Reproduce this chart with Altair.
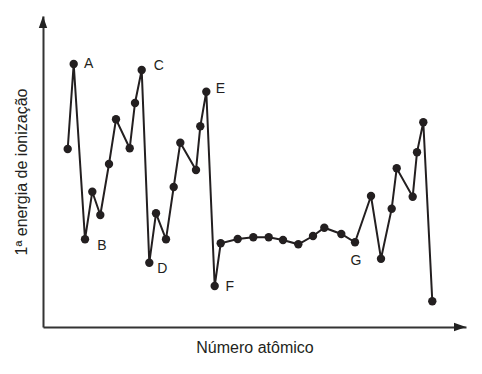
import altair as alt
import pandas as pd

# position along the atomic-number axis and ionization energy (arbitrary units)
pos = [24.7, 30.7, 42.0, 49.3, 57.3, 66.0, 73.0, 86.7, 92.0, 98.7,
       106.3, 113.0, 123.0, 130.7, 137.3, 153.0, 157.3, 163.3, 171.7, 177.7,
       194.7, 210.3, 225.7, 240.0, 255.3, 270.0, 281.3, 298.3, 312.0, 328.0,
       338.0, 348.7, 353.7, 369.7, 374.0, 380.3, 389.3]
energy = [178.0, 263.0, 87.7, 135.3, 112.0, 163.0, 207.7, 178.7, 224.0, 257.0,
          64.3, 113.7, 87.7, 140.0, 184.3, 157.0, 200.7, 235.3, 41.0, 83.7,
          88.0, 89.7, 89.7, 87.0, 82.7, 91.0, 99.3, 93.0, 84.7, 131.0,
          68.3, 118.3, 158.7, 130.3, 174.7, 204.7, 25.7]
label_names = ["A", "B", "C", "D", "E", "F", "G"]
label_index = [2, 3, 10, 11, 18, 19, 29]  # 1-based point numbers

x_max = 423
y_max = 311

df = pd.DataFrame({"pos": pos, "energy": energy, "order": list(range(1, len(pos) + 1))})
lab = pd.DataFrame({
    "pos": [pos[i - 1] for i in label_index],
    "energy": [energy[i - 1] for i in label_index],
    "label": label_names,
})

INK = "#231f20"
FONT = "Liberation Sans"

xs = alt.Scale(domain=[0, x_max], nice=False, zero=False)
ys = alt.Scale(domain=[0, y_max], nice=False, zero=False)

x_enc = alt.X("pos:Q", scale=xs, axis=alt.Axis(
    title="Número atômico", labels=False, ticks=False, grid=False,
    domainColor="#333333", domainWidth=2, titleFont=FONT, titleFontSize=16,
    titleFontWeight="normal", titleColor=INK, titlePadding=12))
y_enc = alt.Y("energy:Q", scale=ys, axis=alt.Axis(
    title="1ª energia de ionização", labels=False, ticks=False, grid=False,
    domainColor="#333333", domainWidth=2, titleFont=FONT, titleFontSize=16,
    titleFontWeight="normal", titleColor=INK, titlePadding=14))

base = alt.Chart(df)
line = base.mark_line(color=INK, strokeWidth=2).encode(x=x_enc, y=y_enc, order="order:Q")
pts = base.mark_circle(color=INK, opacity=1, size=70).encode(x="pos:Q", y="energy:Q")

offsets = {"A": (15, 0), "B": (17, 7), "C": (17, -4), "D": (13, 6),
           "E": (14, -3), "F": (15, 1), "G": (1, 19)}
texts = []
for name in label_names:
    dx, dy = offsets[name]
    texts.append(
        alt.Chart(lab).transform_filter(alt.datum.label == name)
        .mark_text(font=FONT, fontSize=14, color=INK, dx=dx, dy=dy,
                   align="center", baseline="middle")
        .encode(x="pos:Q", y="energy:Q", text="label:N")
    )

arrows = pd.DataFrame({"pos": [x_max, 0], "energy": [0, y_max],
                       "dir": ["right", "up"]})
arrow_r = alt.Chart(arrows).transform_filter(alt.datum.dir == "right").mark_point(
    shape="M0,0L-2,-0.7L-2,0.7Z", filled=True, color="#222222", opacity=1,
    size=144, strokeWidth=0).encode(x="pos:Q", y="energy:Q")
arrow_u = alt.Chart(arrows).transform_filter(alt.datum.dir == "up").mark_point(
    shape="M0,0L-0.7,2L0.7,2Z", filled=True, color="#222222", opacity=1,
    size=144, strokeWidth=0).encode(x="pos:Q", y="energy:Q")

chart = alt.layer(line, pts, *texts, arrow_r, arrow_u).properties(
    width=x_max, height=y_max,
    autosize=alt.AutoSizeParams(type="none"),
    padding={"left": 35, "top": 8, "right": 8, "bottom": 39},
    background="white",
).configure_view(stroke=None)

chart.save("out.html", embed_options={"renderer": "svg", "actions": False})
